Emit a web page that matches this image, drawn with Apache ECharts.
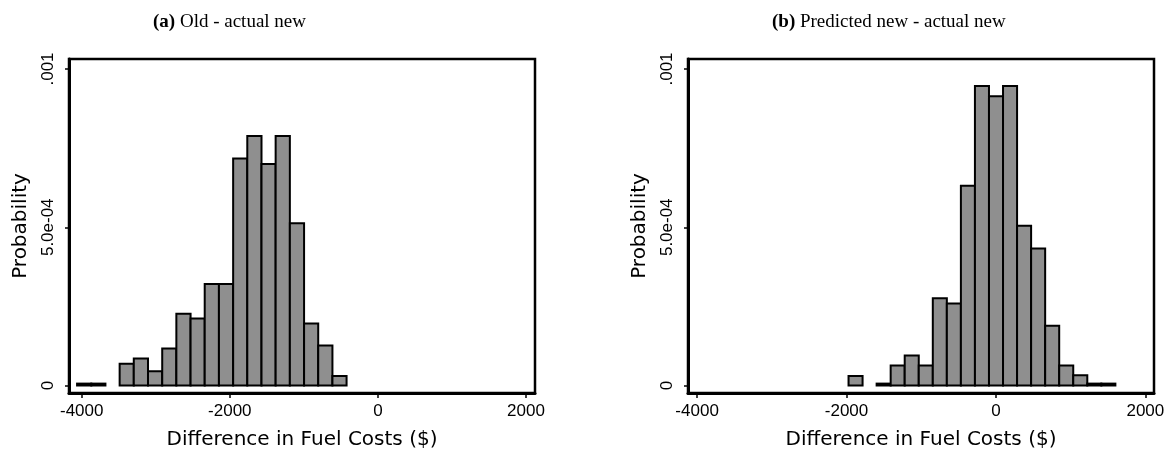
<!DOCTYPE html>
<html>
<head>
<meta charset="utf-8">
<script src="https://cdn.jsdelivr.net/npm/echarts@6/dist/echarts.min.js"></script>
<style>
    html, body { margin: 0; padding: 0; background: #fff; }
    #chart_content { width: 1175px; height: 455px; }
</style>
</head>
<body>
<div id="chart_content"></div>
<script>
// bin edges and densities
var edges_a = [-4063, -3871, -3680, -3488, -3297, -3105, -2913, -2722, -2530, -2339,
               -2147, -1955, -1764, -1572, -1381, -1189, -997, -806, -614, -423];
var heights_a = [0.000006, 0.000006, 0, 0.000069, 0.000085, 0.000045, 0.000117, 0.000227, 0.000212, 0.000321,
                 0.000321, 0.000717, 0.000788, 0.000700, 0.000788, 0.000513, 0.000196, 0.000126, 0.000030];

var edges_b = [-1973, -1785, -1597, -1409, -1221, -1033, -845, -657, -469, -281,
               -93, 95, 283, 471, 659, 847, 1035, 1223, 1411, 1599];
var heights_b = [0.000030, 0, 0.000006, 0.000063, 0.000095, 0.000063, 0.000276, 0.000259, 0.000631, 0.000946,
                 0.000914, 0.000946, 0.000505, 0.000433, 0.000189, 0.000063, 0.000032, 0.000006, 0.000006];

var x_ticks = [-4000, -2000, 0, 2000];
var y_ticks = [0, 0.0005, 0.001];
var y_tick_labels = ["0", "5.0e-04", ".001"];

function to_bins(edges, heights){
    var out = [];
    for(var i = 0; i < heights.length; i++){
        out.push([edges[i], edges[i + 1], heights[i]]);
    }
    return out;
}

function render_bar(params, api){
    var h = api.value(2);
    if(!h) return null;
    var p0 = api.coord([api.value(0), 0]);
    var p1 = api.coord([api.value(1), h]);
    return {
        type: 'rect',
        shape: { x: p0[0], y: p1[1], width: p1[0] - p0[0], height: p0[1] - p1[1] },
        style: { fill: '#8f8f8f', stroke: '#000', lineWidth: 2 }
    };
}

function x_axis(idx, min, max){
    return {
        type: 'value', gridIndex: idx, min: min, max: max,
        name: 'Difference in Fuel Costs ($)',
        nameLocation: 'middle', nameGap: 37,
        nameTextStyle: { fontFamily: 'DejaVu Sans', fontSize: 20, color: '#000' },
        axisLine: { show: true, onZero: false, lineStyle: { color: '#000', width: 3 } },
        axisTick: { show: true, length: 5, customValues: x_ticks, lineStyle: { color: '#000', width: 1.5 } },
        axisLabel: {
            customValues: x_ticks, margin: 10, fontFamily: 'Liberation Sans', fontSize: 17, color: '#000',
            formatter: function(val){ return String(val); }
        },
        splitLine: { show: false }
    };
}

function y_axis(idx){
    return {
        type: 'value', gridIndex: idx, min: -0.0000237, max: 0.0010316,
        name: 'Probability',
        nameLocation: 'middle', nameGap: 38, nameRotate: 90,
        nameTextStyle: { fontFamily: 'DejaVu Sans', fontSize: 20, color: '#000' },
        axisLine: { show: true, onZero: false, lineStyle: { color: '#000', width: 3 } },
        axisTick: { show: true, length: 4, customValues: y_ticks, lineStyle: { color: '#000', width: 1.5 } },
        axisLabel: {
            customValues: y_ticks, rotate: 90, margin: 12,
            fontFamily: 'Liberation Sans', fontSize: 17, color: '#000',
            formatter: function(val){
                var k = y_ticks.indexOf(val);
                return k >= 0 ? y_tick_labels[k] : '';
            }
        },
        splitLine: { show: false }
    };
}

var title_style = {
    fontFamily: 'Liberation Serif', fontSize: 19, fontWeight: 'normal', color: '#000',
    rich: { b: { fontFamily: 'Liberation Serif', fontSize: 19, fontWeight: 'bold', color: '#000' } }
};

var chart = echarts.init(document.getElementById('chart_content'), null, { renderer: 'canvas' });
var option = {
    animation: false,
    backgroundColor: '#fff',
    title: [
        { text: '{b|(a)} Old - actual new', left: 148, top: 8, textStyle: title_style },
        { text: '{b|(b)} Predicted new - actual new', left: 767, top: 8, textStyle: title_style }
    ],
    grid: [
        { left: 69, right: 640, top: 59, bottom: 62, show: true, borderColor: '#000', borderWidth: 2.5 },
        { left: 688, right: 21, top: 59, bottom: 62, show: true, borderColor: '#000', borderWidth: 2.5 }
    ],
    xAxis: [x_axis(0, -4172, 2122), x_axis(1, -4122, 2116)],
    yAxis: [y_axis(0), y_axis(1)],
    series: [
        { type: 'custom', xAxisIndex: 0, yAxisIndex: 0, renderItem: render_bar,
          encode: { x: [0, 1], y: 2 }, data: to_bins(edges_a, heights_a) },
        { type: 'custom', xAxisIndex: 1, yAxisIndex: 1, renderItem: render_bar,
          encode: { x: [0, 1], y: 2 }, data: to_bins(edges_b, heights_b) }
    ]
};
chart.setOption(option, true);
</script>
</body>
</html>
